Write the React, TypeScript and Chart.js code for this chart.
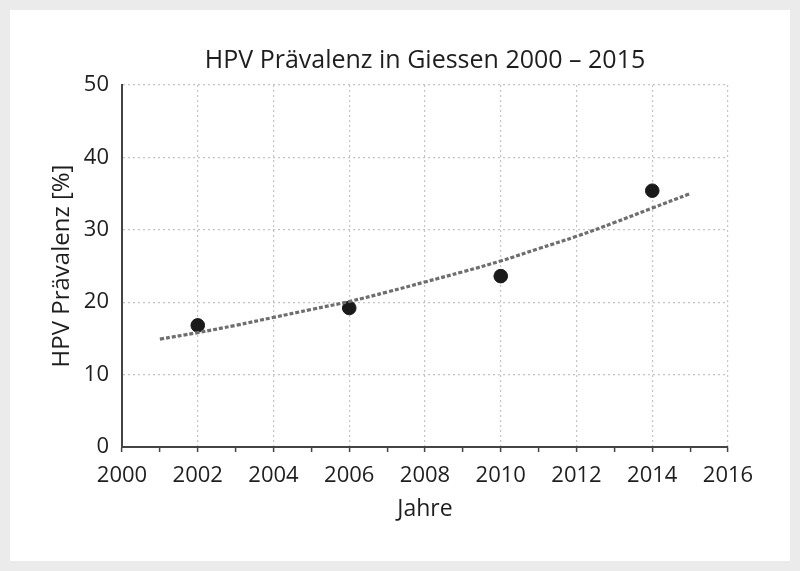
import React, { useEffect, useRef } from "react";
import { Chart, registerables } from "chart.js";

Chart.register(...registerables);

const title = "HPV Prävalenz in Giessen 2000 – 2015";
const xTitle = "Jahre";
const yTitle = "HPV Prävalenz [%]";

const years = [2002, 2006, 2010, 2014];
const prevalence = [16.8, 19.2, 23.6, 35.4];

const trendYears = [2001, 2002, 2003, 2004, 2005, 2006, 2007, 2008, 2009, 2010, 2011, 2012, 2013, 2014, 2015];
const trendValues = [14.9, 15.8, 16.8, 17.9, 19.0, 20.1, 21.4, 22.8, 24.2, 25.7, 27.4, 29.1, 31.0, 33.0, 35.0];

const xTicks = [2000, 2002, 2004, 2006, 2008, 2010, 2012, 2014, 2016];
const yTicks = [0, 10, 20, 30, 40, 50];

const FONT = "'Open Sans', 'Liberation Sans', sans-serif";

export default function App() {
  const ref = useRef<HTMLCanvasElement | null>(null);

  useEffect(() => {
    if (!ref.current) return;
    const titlePlugin = {
      id: "centerTitle",
      afterDraw(chart: any) {
        const { ctx, chartArea } = chart;
        ctx.save();
        ctx.fillStyle = "#1e1e1e";
        ctx.font = `25px ${FONT}`;
        ctx.textAlign = "center";
        ctx.textBaseline = "middle";
        ctx.fillText(title, (chartArea.left + chartArea.right) / 2, 51);
        ctx.restore();
      },
    };
    const chart = new Chart(ref.current, {
      type: "scatter",
      data: {
        datasets: [
          {
            type: "line",
            label: "Trend",
            data: trendYears.map((x, i) => ({ x, y: trendValues[i] })),
            borderColor: "#6e6e6e",
            borderWidth: 3.2,
            borderDash: [4, 2],
            pointRadius: 0,
            tension: 0.4,
            fill: false,
          },
          {
            label: "HPV",
            data: years.map((x, i) => ({ x, y: prevalence[i] })),
            backgroundColor: "#1a1a1a",
            borderColor: "#1a1a1a",
            pointRadius: 6.8,
          },
        ],
      },
      options: {
        animation: false,
        responsive: false,
        maintainAspectRatio: false,
        layout: { padding: { left: 34, right: 62, top: 75, bottom: 34 } },
        plugins: {
          legend: { display: false },
          tooltip: { enabled: false },
          title: { display: false },
        },
        scales: {
          x: {
            type: "linear",
            min: 2000,
            max: 2016,
            afterBuildTicks: (s: any) => {
              const t = [];
              for (let v = 2000; v <= 2016; v++) t.push({ value: v });
              s.ticks = t;
            },
            afterFit: (s: any) => {
              s.height = 80;
            },
            ticks: {
              autoSkip: false,
              maxRotation: 0,
              color: "#1e1e1e",
              font: { family: FONT, size: 22 },
              padding: 11,
              callback: (v: any) => (xTicks.includes(Number(v)) ? String(v) : ""),
            },
            grid: {
              color: (c: any) =>
                c.tick && xTicks.includes(c.tick.value) && c.tick.value !== 2000 ? "#c4c4c4" : "rgba(0,0,0,0)",
              lineWidth: 1.2,
              drawTicks: true,
              tickLength: 5,
              tickColor: "#444",
              tickWidth: 1.5,
            },
            border: { display: true, color: "#444", width: 2, dash: [2, 3] },
            title: {
              display: true,
              text: xTitle,
              color: "#1e1e1e",
              font: { family: FONT, size: 23 },
              padding: { top: 0, bottom: 4 },
            },
          },
          y: {
            min: 0,
            max: 50,
            afterBuildTicks: (s: any) => {
              s.ticks = yTicks.map((value) => ({ value }));
            },
            afterFit: (s: any) => {
              s.width = 78;
            },
            ticks: {
              color: "#1e1e1e",
              font: { family: FONT, size: 22 },
              padding: 13,
            },
            grid: {
              color: (c: any) => (c.tick && c.tick.value !== 0 ? "#c4c4c4" : "rgba(0,0,0,0)"),
              lineWidth: 1.2,
              drawTicks: false,
            },
            border: { display: true, color: "#444", width: 2, dash: [2, 3] },
            title: {
              display: true,
              text: yTitle,
              color: "#1e1e1e",
              font: { family: FONT, size: 24 },
              padding: { top: 4, bottom: 4 },
            },
          },
        },
      },
      plugins: [titlePlugin],
    } as any);
    return () => chart.destroy();
  }, []);

  return (
    <div
      style={{
        position: "absolute",
        left: 0,
        top: 0,
        width: 800,
        height: 571,
        background: "#ebebeb",
      }}
    >
      <div
        style={{
          position: "absolute",
          left: 10,
          top: 10,
          width: 780,
          height: 551,
          background: "#ffffff",
        }}
      >
        <canvas ref={ref} width={780} height={551} style={{ display: "block" }} />
      </div>
    </div>
  );
}
